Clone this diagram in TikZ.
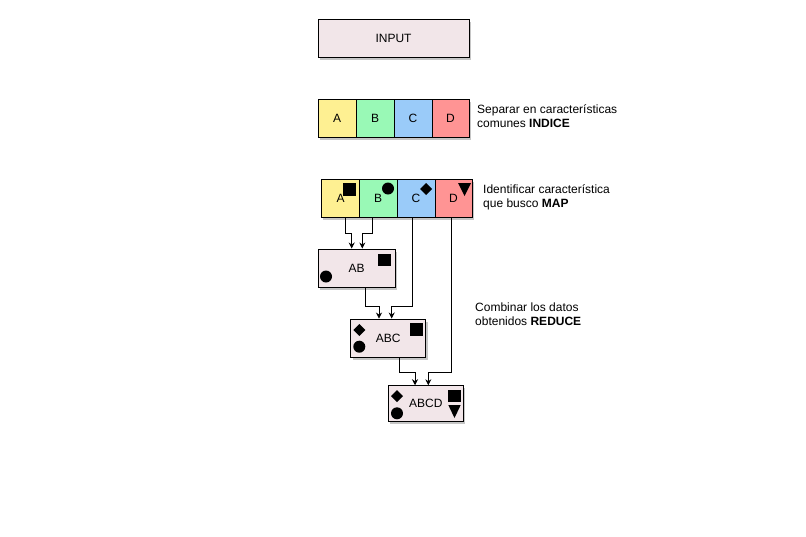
\documentclass[tikz,border=0pt]{standalone}
\usepackage{fontspec}
\setmainfont{Liberation Sans}
\usetikzlibrary{shadows,arrows.meta,calc}
\definecolor{boxpink}{HTML}{F2E6E9}
\definecolor{cyel}{HTML}{FEF092}
\definecolor{cgrn}{HTML}{99F9B6}
\definecolor{cblu}{HTML}{9ACBF9}
\definecolor{cred}{HTML}{FF9494}
\begin{document}
\begin{tikzpicture}[x=1pt,y=-1pt,
  shd/.style={drop shadow={opacity=0.45,shadow xshift=2pt,shadow yshift=-2.5pt}},
  cell/.style={draw,line width=0.9pt,minimum width=38pt,minimum height=38pt,inner sep=0pt,font=\fontsize{12}{14}\selectfont,shd},
  pbox/.style={draw,line width=0.9pt,fill=boxpink,inner sep=0pt,font=\fontsize{12}{14}\selectfont,shd},
  lbl/.style={anchor=north west,align=left,inner sep=0pt,font=\fontsize{12}{14}\selectfont},
  arr/.style={line width=0.8pt,-{Stealth[length=6pt,width=6pt]}},
  sym/.style={fill=black}]
\useasboundingbox (0,0) rectangle (806,536);
% INPUT
\node[pbox,minimum width=151pt,minimum height=38pt] (in) at (393.5,38.5) {INPUT};
% row 1
\node[cell,fill=cyel] (a1) at (337,118) {A};
\node[cell,fill=cgrn] (b1) at (375,118) {B};
\node[cell,fill=cblu] (c1) at (413,118) {C};
\node[cell,fill=cred,minimum width=37pt] (d1) at (450.5,118) {D};
\node[lbl] (t1) at (477,104.5) {Separar en características\\comunes \textbf{INDICE}};
% row 2
\node[cell,fill=cyel] (a2) at (340,198) {};
\node[cell,fill=cgrn] (b2) at (378,198) {};
\node[cell,fill=cblu] (c2) at (416,198) {};
\node[cell,fill=cred,minimum width=37pt] (d2) at (453.5,198) {};
\node[font=\fontsize{12}{14}\selectfont] (la) at (340.5,198.5) {A};
\node[font=\fontsize{12}{14}\selectfont] (lb) at (378,198.5) {B};
\node[font=\fontsize{12}{14}\selectfont] (lc) at (416,198.5) {C};
\node[font=\fontsize{12}{14}\selectfont] (ld) at (453.5,198.5) {D};
\fill[sym] (343,183) rectangle (356,196);
\fill[sym] (388,188.5) circle (6);
\fill[sym] (426,183) -- (432,189) -- (426,195) -- (420,189) -- cycle;
\fill[sym] (458,183) -- (471,183) -- (464.5,196) -- cycle;
\node[lbl] (t2) at (483,184.5) {Identificar característica\\que busco \textbf{MAP}};
% AB
\node[pbox,minimum width=77pt,minimum height=38pt] (ab) at (356.5,268) {AB};
\fill[sym] (378,254) rectangle (391,266);
\fill[sym] (326,276.5) circle (6);
% ABC
\node[pbox,minimum width=75pt,minimum height=38pt] (abc) at (388.2,338) {ABC};
\fill[sym] (410,323) rectangle (422.7,335.7);
\fill[sym] (359.3,324) -- (365.3,330) -- (359.3,336) -- (353.3,330) -- cycle;
\fill[sym] (359.3,346.7) circle (6);
% ABCD
\node[pbox,minimum width=75pt,minimum height=36pt] (abcd) at (425.8,403.7) {ABCD};
\fill[sym] (448.3,390) rectangle (460.7,401.7);
\fill[sym] (448.3,405) -- (460.7,405) -- (454.5,418) -- cycle;
\fill[sym] (397,390) -- (403,396) -- (397,402) -- (391,396) -- cycle;
\fill[sym] (397,413.3) circle (6);
\node[lbl] (t3) at (475,302.5) {Combinar los datos\\obtenidos \textbf{REDUCE}};
% connectors
\draw[arr] ([xshift=5.7]a2.south) -- ++(0,15.7) -| ([xshift=-4.8]ab.north);
\draw[arr] ([xshift=-6]b2.south) -- ++(0,15.7) -| ([xshift=5.8]ab.north);
\draw[arr] ([xshift=8.5]ab.south) -- ++(0,19) -| ([xshift=-9.2]abc.north);
\draw[arr] ([xshift=-3.7]c2.south) -- ++(0,89) -| ([xshift=3.5]abc.north);
\draw[arr] ([xshift=11.1]abc.south) -- ++(0,14.5) -| ([xshift=-10.8]abcd.north);
\draw[arr] ([xshift=-1.8]d2.south) -- ++(0,154.7) -| ([xshift=2.5]abcd.north);
\end{tikzpicture}
\end{document}
